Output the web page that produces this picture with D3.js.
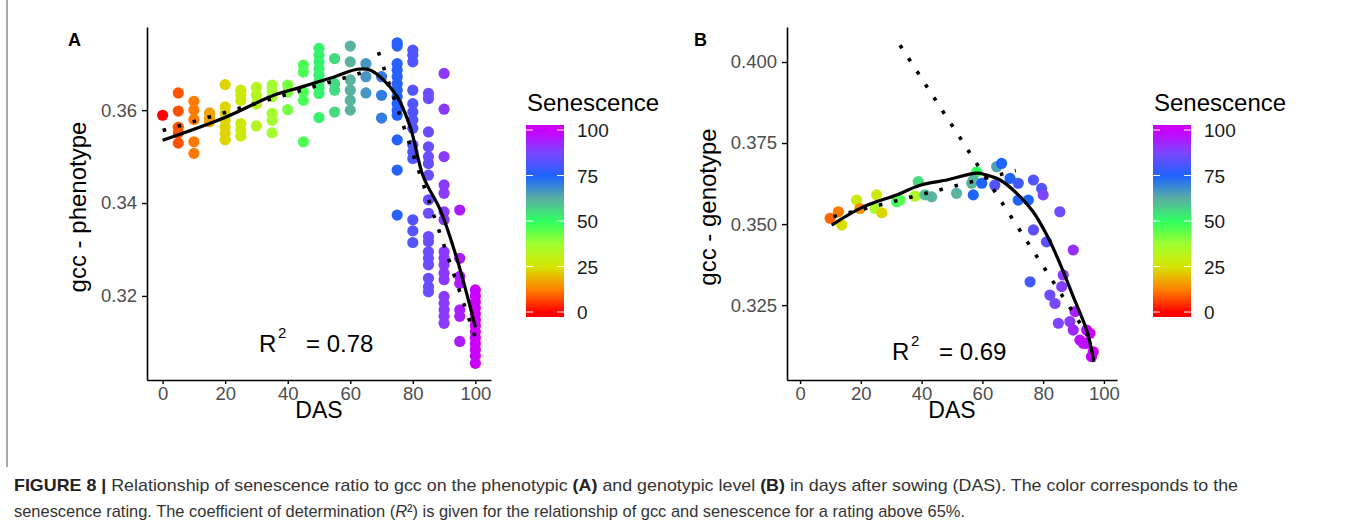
<!DOCTYPE html>
<html>
<head>
<meta charset="utf-8">
<script src="https://cdn.jsdelivr.net/npm/d3@7"></script>
<style>
  body { margin: 0; background: #fff; }
  svg { display: block; font-family: "Liberation Sans", Arial, sans-serif; }
  .axis path, .axis line { stroke: #000; }
  .axis text { fill: #4d4d4d; }
</style>
</head>
<body>
<div id="chart"></div>
<script>
// ---- panel A (phenotype): columns of DAS, gcc values per column, senescence per column
const aDas = [0, 5, 10, 15, 20, 25, 30, 35, 40, 45, 50, 55, 60, 65, 70, 75, 80, 85, 90, 95, 100];
const aSen = [0, 8, 12, 17, 23, 28, 33, 37, 42, 47, 52, 56, 62, 67, 71, 76, 82, 85, 90, 95, 100];
const aGcc = [
  [0.3589],
  [0.3637, 0.3598, 0.3563, 0.3551, 0.3529],
  [0.3619, 0.3600, 0.3580, 0.3532, 0.3507],
  [0.3594, 0.3583, 0.3575],
  [0.3655, 0.3607, 0.3593, 0.3578, 0.3564, 0.3550, 0.3536],
  [0.3643, 0.3632, 0.3621, 0.3571, 0.3557, 0.3544],
  [0.3649, 0.3632, 0.3613, 0.3566],
  [0.3654, 0.3641, 0.3629, 0.3593, 0.3578, 0.3551],
  [0.3654, 0.3639, 0.3601],
  [0.3697, 0.3682, 0.3639, 0.3621, 0.3532],
  [0.3733, 0.3718, 0.3704, 0.3689, 0.3675, 0.3661, 0.3647, 0.3636, 0.3584],
  [0.3711, 0.3657, 0.3643, 0.3596],
  [0.3738, 0.3704, 0.3665, 0.3643, 0.3621, 0.3600],
  [0.3700, 0.3672, 0.3637],
  [0.3672, 0.3632, 0.3583],
  [0.3745, 0.3738, 0.3700, 0.3686, 0.3672, 0.3657, 0.3643, 0.3629, 0.3614, 0.3600, 0.3589, 0.3536, 0.3471, 0.3374],
  [0.3729, 0.3718, 0.3704, 0.3643, 0.3614, 0.3596, 0.3579, 0.3561, 0.3525, 0.3510, 0.3496, 0.3364, 0.3340, 0.3315],
  [0.3636, 0.3625, 0.3553, 0.3521, 0.3500, 0.3485, 0.3460, 0.3407, 0.3378, 0.3328, 0.3317, 0.3295, 0.3281, 0.3267, 0.3238, 0.3220, 0.3209],
  [0.3679, 0.3602, 0.3500, 0.3439, 0.3421, 0.3381, 0.3364, 0.3295, 0.3281, 0.3267, 0.3249, 0.3235, 0.3199, 0.3184, 0.3170, 0.3156, 0.3141],
  [0.3385, 0.3281, 0.3242, 0.3227, 0.3170, 0.3156, 0.3102],
  [0.3213, 0.3200, 0.3187, 0.3174, 0.3161, 0.3148, 0.3136, 0.3123, 0.3110, 0.3097, 0.3084, 0.3071, 0.3055]
];
// loess fit (solid) and segmented fit (dotted)
const aFitDas = [0, 19.5, 35.5, 44, 54.6, 62.3, 66.5, 70.6, 75.1, 79.2, 83.4, 88.8, 94.2, 100];
const aFitGcc = [0.3535, 0.3583, 0.3632, 0.3649, 0.3671, 0.3688, 0.3686, 0.3665, 0.3628, 0.3563, 0.3456, 0.3385, 0.3278, 0.3133];
const aSegDas = [[0, 65], [69, 100]];
const aSegGcc = [[0.3556, 0.3683], [0.3725, 0.3110]];

// ---- panel B (genotype)
const bDas = [9.9, 12.6, 13.7, 18.6, 19.7, 25.2, 24.7, 26.9, 31.8, 32.9, 37.8, 38.9, 41.1, 43.3, 51.5, 56.5, 57, 58.1, 57, 59.8,
  64.7, 66.3, 64.1, 69.1, 71.8, 71.8, 75.1, 76.8, 79.5, 80, 85.5, 76.8, 81.1, 89.9, 75.7, 82.2, 83.9, 86.6, 86.1, 85,
  88.8, 89.9, 90.5, 92.1, 94.3, 95.4, 94.2, 96.5, 95.9, 93.2];
const bGcc = [0.3518, 0.3538, 0.3497, 0.3574, 0.3548, 0.3590, 0.3548, 0.3535, 0.3569, 0.3574, 0.3586, 0.3631, 0.3590, 0.3584, 0.3595, 0.3626, 0.3590, 0.3661, 0.3636, 0.3626,
  0.3677, 0.3687, 0.3620, 0.3641, 0.3626, 0.3574, 0.3574, 0.3636, 0.3610, 0.3590, 0.3538, 0.3482, 0.3445, 0.3420, 0.3322, 0.3281, 0.3255, 0.3343, 0.3307, 0.3194,
  0.3199, 0.3173, 0.3230, 0.3142, 0.3173, 0.3163, 0.3132, 0.3106, 0.3091, 0.3132];
const bSen = [10, 12, 24, 28, 14, 28, 36, 23, 48, 46, 34, 56, 60, 62, 62, 62, 75, 50, 62, 75,
  65, 75, 82, 75, 80, 75, 75, 82, 82, 88, 86, 84, 83, 92, 80, 86, 87, 90, 89, 88,
  90, 93, 95, 98, 98, 100, 100, 100, 100, 98];
const bFitDas = [10.4, 20.8, 31.8, 39.5, 48.3, 58.1, 61.4, 65.8, 71.3, 76.7, 81.2, 85.5, 89.9, 94.3, 96.7];
const bFitGcc = [0.3497, 0.3553, 0.3590, 0.3620, 0.3636, 0.3657, 0.3651, 0.3636, 0.3595, 0.3538, 0.3466, 0.3379, 0.3276, 0.3173, 0.3075];
const bSegDas = [[11, 71], [32.9, 96.5]];
const bSegGcc = [[0.3523, 0.3665], [0.4052, 0.3131]];

// colour scale and ticks
const senStops = [0, 12.5, 25, 37.5, 50, 62.5, 75, 87.5, 100];
const senColors = ['#ff0000', '#ff8000', '#d8e400', '#a0ff30', '#30ff60', '#5cb0a2', '#1e64ff', '#7a48ff', '#cc00ff'];
const legendTicks = [0, 25, 50, 75, 100];
const caption1 = [
  ['FIGURE 8 |', 'bold'], [' Relationship of senescence ratio to gcc on the phenotypic ', 'normal'], ['(A)', 'bold'],
  [' and genotypic level ', 'normal'], ['(B)', 'bold'], [' in days after sowing (DAS). The color corresponds to the', 'normal']
];

const W = 1355, H = 527;
const color = d3.scaleLinear().domain(senStops).range(senColors).interpolate(d3.interpolateRgb);

const svg = d3.select('#chart').append('svg').attr('width', W).attr('height', H);
svg.append('rect').attr('width', W).attr('height', H).attr('fill', '#fff');

// figure frame
svg.append('line').attr('x1', 7).attr('x2', 7).attr('y1', 0).attr('y2', 467).attr('stroke', '#555').attr('stroke-width', 1);

function drawPanel(p) {
  const x = d3.scaleLinear().domain(p.xDomain).range(p.xRange);
  const y = d3.scaleLinear().domain(p.yDomain).range([380, 27]);
  const g = svg.append('g');

  g.selectAll('circle').data(p.points).join('circle')
    .attr('cx', d => x(d.das)).attr('cy', d => y(d.gcc)).attr('r', 5.6)
    .attr('fill', d => color(d.sen));

  const line = d3.line().x(d => x(d[0])).y(d => y(d[1])).curve(d3.curveCatmullRom.alpha(0.5));
  p.segDas.forEach((s, i) => {
    g.append('path').datum(d3.zip(s, p.segGcc[i]))
      .attr('d', d3.line().x(d => x(d[0])).y(d => y(d[1])))
      .attr('fill', 'none').attr('stroke', '#000').attr('stroke-width', 3.6)
      .attr('stroke-dasharray', '3.6,12');
  });
  g.append('path').datum(d3.zip(p.fitDas, p.fitGcc)).attr('d', line)
    .attr('fill', 'none').attr('stroke', '#000').attr('stroke-width', 3.2);

  const xa = g.append('g').attr('class', 'axis').attr('transform', 'translate(0,380)')
    .call(d3.axisBottom(x).tickValues([0, 20, 40, 60, 80, 100]).tickSize(4).tickSizeOuter(0).tickPadding(3));
  const ya = g.append('g').attr('class', 'axis').attr('transform', `translate(${p.xRange[0]},0)`)
    .call(d3.axisLeft(y).tickValues(p.yTicks).tickFormat(d3.format(p.yFmt)).tickSize(5).tickSizeOuter(0).tickPadding(5));
  [xa, ya].forEach(a => {
    a.selectAll('text').attr('font-size', 18.5).attr('font-family', 'Liberation Sans, Arial, sans-serif');
    a.select('.domain').attr('stroke-width', 1.6);
    a.selectAll('.tick line').attr('stroke', '#333').attr('stroke-width', 1.4);
  });

  const mid = (p.xRange[0] + p.xRange[1]) / 2;
  g.append('text').attr('x', mid).attr('y', 418).attr('text-anchor', 'middle')
    .attr('font-size', 23).text('DAS');
  g.append('text').attr('transform', `translate(${p.yLabelX},207) rotate(-90)`)
    .attr('text-anchor', 'middle').attr('font-size', 24).text(p.yLabel);
  g.append('text').attr('x', p.letterX).attr('y', 46).attr('font-size', 18)
    .attr('font-weight', 'bold').text(p.letter);

  // R^2 annotation
  g.append('text').attr('x', p.r2X).attr('y', p.r2Y).attr('font-size', 24).text('R');
  g.append('text').attr('x', p.r2X + 19).attr('y', p.r2Y - 14).attr('font-size', 15).text('2');
  g.append('text').attr('x', p.r2X + 47).attr('y', p.r2Y).attr('font-size', 24).text(p.r2);

  // colour bar legend
  const lx = p.legendX;
  const ly = d3.scaleLinear().domain([0, 100]).range([312, 130]);
  g.append('text').attr('x', lx + 1).attr('y', 111).attr('font-size', 24).text('Senescence');
  const bar = g.append('g');
  d3.range(0, 100.5, 0.5).forEach(v => {
    bar.append('rect').attr('x', lx).attr('width', 38)
      .attr('y', ly(v) - 1).attr('height', 2).attr('fill', color(v));
  });
  bar.append('rect').attr('x', lx).attr('width', 38).attr('y', ly(0)).attr('height', 5).attr('fill', color(0));
  bar.append('rect').attr('x', lx).attr('width', 38).attr('y', ly(100) - 5).attr('height', 5).attr('fill', color(100));
  legendTicks.forEach(t => {
    bar.append('line').attr('x1', lx).attr('x2', lx + 7).attr('y1', ly(t)).attr('y2', ly(t))
      .attr('stroke', '#fff').attr('stroke-width', 1);
    bar.append('line').attr('x1', lx + 31).attr('x2', lx + 38).attr('y1', ly(t)).attr('y2', ly(t))
      .attr('stroke', '#fff').attr('stroke-width', 1);
    g.append('text').attr('x', lx + 51).attr('y', ly(t) + 7).attr('font-size', 19).attr('fill', '#1a1a1a').text(t);
  });
}

const pointsA = aDas.flatMap((d, i) => aGcc[i].map(v => ({das: d, gcc: v, sen: aSen[i]})));
const pointsB = bDas.map((d, i) => ({das: d, gcc: bGcc[i], sen: bSen[i]}));

drawPanel({
  points: pointsA, fitDas: aFitDas, fitGcc: aFitGcc, segDas: aSegDas, segGcc: aSegGcc,
  xDomain: [-5, 105], xRange: [147, 491], yDomain: [0.3019, 0.3779],
  yTicks: [0.32, 0.34, 0.36], yFmt: '.2f', yLabel: 'gcc - phenotype', yLabelX: 86,
  letter: 'A', letterX: 68, r2X: 259, r2Y: 352, r2: '= 0.78', legendX: 526
});
drawPanel({
  points: pointsB, fitDas: bFitDas, fitGcc: bFitGcc, segDas: bSegDas, segGcc: bSegGcc,
  xDomain: [-4.3, 104.3], xRange: [787, 1117], yDomain: [0.3019, 0.4108],
  yTicks: [0.325, 0.35, 0.375, 0.4], yFmt: '.3f', yLabel: 'gcc - genotype', yLabelX: 716,
  letter: 'B', letterX: 694, r2X: 892, r2Y: 360, r2: '= 0.69', legendX: 1153
});

// caption
const cap = svg.append('g').attr('fill', '#333').attr('font-size', 17);
const t1 = cap.append('text').attr('x', 14).attr('y', 491)
  .attr('textLength', 1224).attr('lengthAdjust', 'spacingAndGlyphs');
caption1.forEach(([s, w]) => t1.append('tspan').attr('font-weight', w).attr('fill', w === 'bold' ? '#222' : '#333').text(s));
const t2 = cap.append('text').attr('x', 14).attr('y', 517)
  .attr('textLength', 951).attr('lengthAdjust', 'spacingAndGlyphs');
t2.append('tspan').text('senescence rating. The coefficient of determination (');
t2.append('tspan').attr('font-style', 'italic').text('R');
t2.append('tspan').text('²) is given for the relationship of gcc and senescence for a rating above 65%.');
</script>
</body>
</html>
